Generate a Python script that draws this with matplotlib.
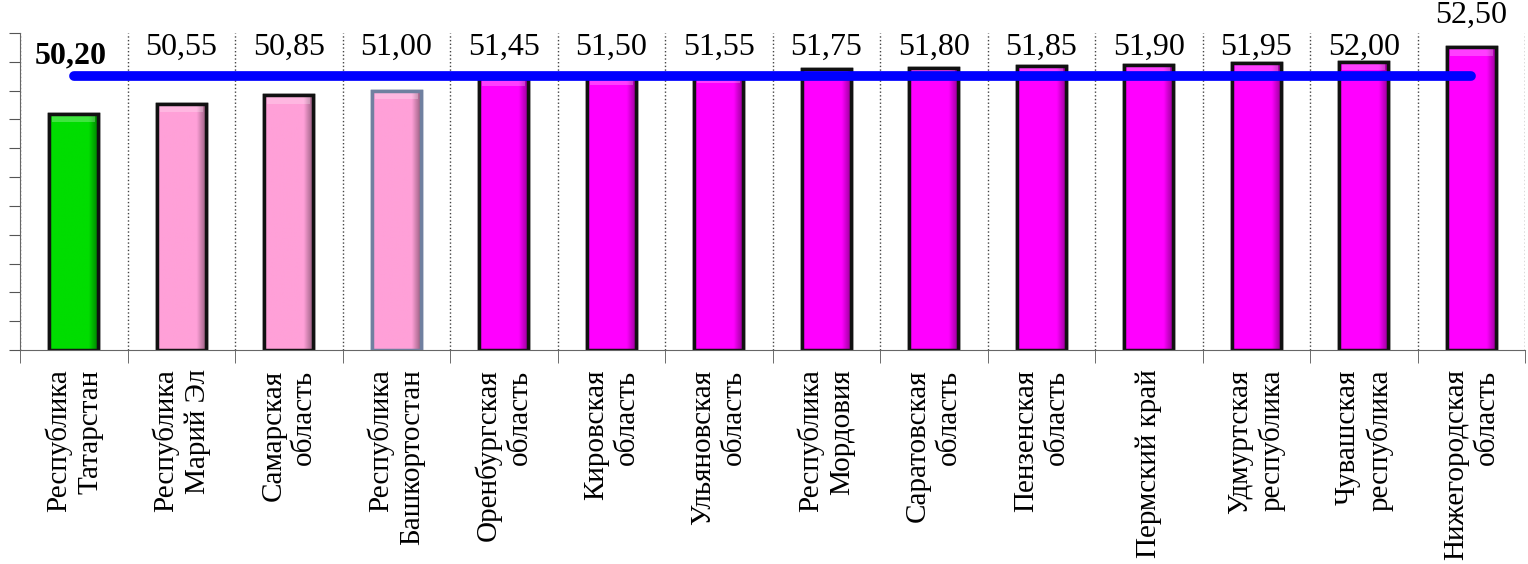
import matplotlib.pyplot as plt
import matplotlib.colors as mcolors
import numpy as np

regions = ["Республика\nТатарстан", "Республика\nМарий Эл", "Самарская\nобласть",
           "Республика\nБашкортостан", "Оренбургская\nобласть", "Кировская\nобласть",
           "Ульяновская\nобласть", "Республика\nМордовия", "Саратовская\nобласть",
           "Пензенская\nобласть", "Пермский край", "Удмуртская\nреспублика",
           "Чувашская\nреспублика", "Нижегородская\nобласть"]
values = [50.20, 50.55, 50.85, 51.00, 51.45, 51.50, 51.55, 51.75, 51.80, 51.85,
          51.90, 51.95, 52.00, 52.50]
value_text = ["50,20", "50,55", "50,85", "51,00", "51,45", "51,50", "51,55", "51,75",
              "51,80", "51,85", "51,90", "51,95", "52,00", "52,50"]
bar_colors = ["#00dd00"] + ["#ffa0d8"] * 3 + ["#ff00ff"] * 10
edge_colors = ["#111111", "#111111", "#111111", "#7080a0"] + ["#111111"] * 10
avg_level = 51.5

plt.rcParams['font.family'] = ['Liberation Serif', 'DejaVu Serif']

fig = plt.figure(figsize=(15.28, 5.64), dpi=100)
ax = fig.add_axes([20 / 1528, 1 - 350 / 564, 1505 / 1528, 317 / 564])

x = np.arange(len(values))
bars = ax.bar(x, np.array(values) - 42, bottom=42, width=0.46, color=bar_colors,
              edgecolor=edge_colors, linewidth=2.5, zorder=2)

# simple shading inside each bar
grad = np.linspace(0, 1, 64)
for b, c in zip(bars, bar_colors):
    rgb = np.array(mcolors.to_rgb(c))
    shade = np.where(grad < 0.8, 1.0, 1.0 - (grad - 0.8) * 2.2)
    img = (rgb[None, :] * shade[:, None])[None, :, :]
    img = np.clip(img, 0, 1)
    bx, by = b.get_x(), b.get_y()
    im = ax.imshow(img, extent=[bx, bx + b.get_width(), by, by + b.get_height()],
                   aspect='auto', zorder=2.1, interpolation='bilinear')
    im.set_clip_path(b)
    top = b.get_y() + b.get_height()
    ax.fill_between([bx + 0.03, bx + b.get_width() - 0.03], top - 0.3, top - 0.02,
                    color='white', alpha=0.25, zorder=2.2, linewidth=0)
    ax.add_patch(plt.Rectangle((bx, by), b.get_width(), b.get_height(), fill=False,
                               edgecolor=b.get_edgecolor(), linewidth=2.5, zorder=2.3))

ax.plot([x[0], x[-1]], [avg_level, avg_level], color='#0000ff', linewidth=7,
        solid_capstyle='round', zorder=3)

for i, (v, t) in enumerate(zip(values, value_text)):
    if i == 0:
        ax.text(i - 0.03, 52.2, t, ha='center', va='center', fontsize=23,
                fontweight='bold', clip_on=False)
    else:
        y = v + 1.12 if v >= 52.5 else 52.5
        ax.text(i, y, t, ha='center', va='center', fontsize=23, clip_on=False)

ax.set_xlim(-0.5, len(values) - 0.5)
ax.set_ylim(42, 53)
ax.set_yticks(np.arange(42, 54, 1))
ax.set_yticklabels([])
ax.tick_params(axis='y', direction='out', length=8, color='#555555')

ax.set_xticks(x)
ax.set_xticklabels(regions, rotation=90, fontsize=21, va='top', ha='center',
                   multialignment='right', linespacing=1.25)
ax.tick_params(axis='x', which='major', length=0, pad=14)
ax.set_xticks(np.arange(-0.5, len(values), 1), minor=True)
ax.tick_params(axis='x', which='minor', direction='out', length=9, color='#555555')
ax.grid(axis='x', which='minor', linestyle=':', color='#444444', linewidth=1)

for s in ['top', 'right']:
    ax.spines[s].set_visible(False)
ax.spines['left'].set_color('#666666')
ax.spines['bottom'].set_color('#666666')

fig.savefig('out.png', dpi=100)
